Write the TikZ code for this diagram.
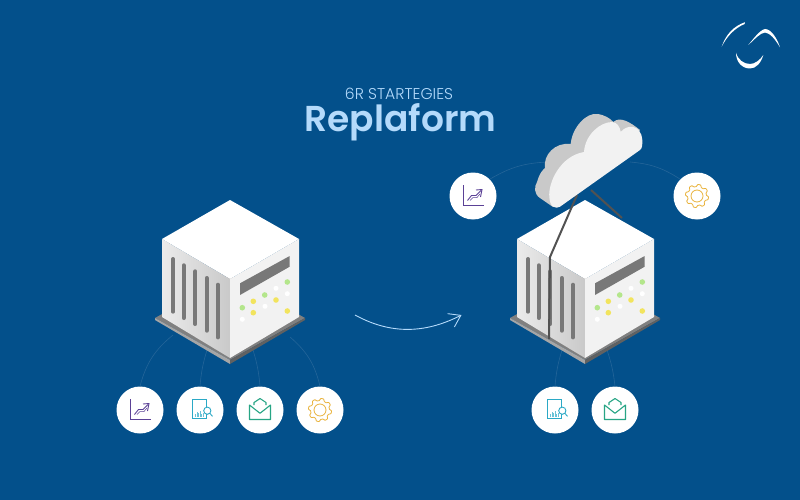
\documentclass[tikz,border=0pt]{standalone}
\usepackage{fontspec}
\setmainfont{Poppins}
\newfontfamily\lightfont{Poppins Light}
\newfontfamily\headfont{Poppins SemiBold}
\usetikzlibrary{arrows.meta}
\definecolor{bluebg}{HTML}{03508B}
\definecolor{arcblue}{HTML}{246599}
\definecolor{titleblue}{HTML}{B4DAFB}
\definecolor{chartcol}{HTML}{5B4196}
\definecolor{reportcol}{HTML}{2BA9C6}
\definecolor{mailcol}{HTML}{27A585}
\definecolor{gearcol}{HTML}{E9B33C}
\definecolor{dotgreen}{HTML}{B4E68C}
\definecolor{dotyellow}{HTML}{F2E45E}
\tikzset{
  badge/.style={circle,fill=white,minimum size=47pt,inner sep=0pt},
  arcline/.style={draw=arcblue,line width=0.6pt},
  wire/.style={draw=black!68,line width=2pt},
  servercube/.pic={
    % plate
    \fill[black!50] (-75,118) -- (0,76) -- (75,118) -- (0,160) -- cycle;
    \fill[black!35] (-75,118) -- (0,160) -- (0,164) -- (-75,120) -- cycle;
    \fill[black!62] (75,118) -- (0,160) -- (0,164) -- (75,120) -- cycle;
    % faces
    \fill[white] (0,0) -- (69,39) -- (0,79) -- (-68,39) -- cycle;
    \shade[left color=black!8,right color=black!21] (-68,39) -- (0,79) -- (0,158) -- (-68,117) -- cycle;
    \fill[black!5] (0,79) -- (69,39) -- (69,117) -- (0,158) -- cycle;
    % slits
    \foreach \sx/\sy in {-57/59,-46.3/65.3,-34.7/71.3,-23.3/78,-12/84.7}
      \draw[black!53,line width=4pt,line cap=round] (\sx,\sy) -- ++(0,52.7);
    % display
    \fill[black!53] (10,83.3) -- (59.7,56) -- (59.7,66.7) -- (10,95) -- cycle;
    % leds
    \foreach \lx/\ly in {57.3/82,34.7/95,12.3/107.7}
      \fill[dotgreen] (\lx,\ly) circle (2.8);
    \foreach \lx/\ly in {23.3/101.3,46/100,23.3/112.7,57.3/111}
      \fill[dotyellow] (\lx,\ly) circle (2.8);
    \foreach \lx/\ly in {46/88.3,57.3/93.7,35/106.3,12.3/119.3}
      \fill[white] (\lx,\ly) circle (2.5);
  },
  charticon/.pic={
    \draw[chartcol,line width=1pt] (-9.7,-10.7) -- (-9.7,9) -- (10.7,9);
    \draw[chartcol,line width=0.9pt] (-5.5,4.5) -- (-1.5,-0.5) -- (3,-0.5) -- (8,-5.5);
    \draw[chartcol,line width=0.9pt] (3,-6) -- (9,-6.5) -- (7.5,1);
    \draw[chartcol,line width=0.5pt] (-3,4.5) -- (0,1.5) -- (4,1.5) -- (7,-2);
  },
  reporticon/.pic={
    \draw[reportcol,line width=0.9pt] (-7.7,-10.7) rectangle (6.7,8.3);
    \foreach \bx/\bh in {-4.5/3,-3/5,-1.5/4,0/6,1.5/3,3/4}
      \draw[reportcol!70,line width=0.9pt] (\bx,6.5) -- ++(0,-\bh);
    \draw[reportcol,line width=0.9pt,fill=white] (7.3,0.7) circle (3.6);
    \draw[reportcol,line width=0.9pt] (9.9,3.3) -- (12.5,6.4);
  },
  mailicon/.pic={
    \draw[mailcol,line width=1.1pt,line join=round] (-6,-5) -- (-6,-7.5) -- (0,-11.5) -- (6,-7.5) -- (6,-5);
    \draw[mailcol,line width=1.1pt,line join=round] (-10.5,-5) -- (-10.5,9.5) -- (10.5,9.5) -- (10.5,-5) -- (0,3.3) -- cycle;
  },
  gearicon/.pic={
    \draw[gearcol,line width=0.8pt,line join=round] plot[smooth,samples=97,domain=0:360]
      (\x:{10.5+1.1*max(-1,min(1,1.6*sin(8*\x)))}) -- cycle;
    \draw[gearcol,line width=0.8pt] (0,0) circle (6);
  }
}

\begin{document}
\begin{tikzpicture}[x=1pt,y=-1pt]

% Background
\fill[bluebg] (0,0) rectangle (800,500);
\useasboundingbox (0,0) rectangle (800,500);

% Title
\node[text=titleblue,font=\lightfont\fontsize{15.6}{17}\selectfont] (subtitle) at (399,94) {6R STARTEGIES};
\node[text=titleblue,font=\headfont\fontsize{36}{40}\selectfont] (title) at (400.5,122) {Replaform};

% Logo
\fill[white] (721.7,46.7) .. controls (726,34) and (734,26) .. (745,22.2) -- (744.6,24) .. controls (735,28) and (727,36) .. (721.7,46.7) -- cycle;
\fill[white] (748.3,45) .. controls (754,38) and (760,30) .. (765,29) .. controls (771,29) and (777,38) .. (780,47.3) .. controls (775,39) and (770,33) .. (765,32.5) .. controls (760,33) and (755,39) .. (748.3,45) -- cycle;
\fill[white] (736,52.7) .. controls (738,60) and (744,64) .. (750,64) .. controls (755,64) and (760,60) .. (763.3,55) .. controls (761,63) and (756,68.5) .. (750,68.5) .. controls (742,68.5) and (736,62) .. (736,52.7) -- cycle;

% Badges
\node[badge] (chartA) at (140,410) {};
\node[badge] (reportA) at (200,410) {};
\node[badge] (mailA) at (260,410) {};
\node[badge] (gearA) at (320,410) {};
\node[badge] (reportB) at (555,410) {};
\node[badge] (mailB) at (615,410) {};
\node[badge] (chartB) at (473,196) {};
\node[badge] (gearB) at (697,196) {};

\pic at (chartA) {charticon};
\pic at (reportA) {reporticon};
\pic at (mailA) {mailicon};
\pic at (gearA) {gearicon};
\pic at (reportB) {reporticon};
\pic at (mailB) {mailicon};
\pic at (chartB) {charticon};
\pic at (gearB) {gearicon};

% Free ends of the arcs
\coordinate (hubA) at (173,335);
\coordinate (hubB) at (207,350);
\coordinate (hubC) at (253,350);
\coordinate (hubD) at (290,337);
\coordinate (hubE) at (562,350);
\coordinate (hubF) at (607,350);
\coordinate (hubG) at (548,162);
\coordinate (hubH) at (630,162);

\draw[arcline] (chartA.north) to[bend left=18] (hubA);
\draw[arcline] (reportA.north) to[bend left=6] (hubB);
\draw[arcline] (mailA.north) to[bend right=6] (hubC);
\draw[arcline] (gearA.north) to[bend right=18] (hubD);
\draw[arcline] (reportB.north) to[bend left=6] (hubE);
\draw[arcline] (mailB.north) to[bend right=6] (hubF);
\draw[arcline] (chartB.45) to[bend left=14] (hubG);
\draw[arcline] (gearB.135) to[bend right=14] (hubH);

% Servers
\coordinate (wireA) at (591,190);
\coordinate (wireB) at (622,218);
\draw[wire] (wireA) -- (wireB);

\pic at (230,200) {servercube};
\pic at (585,200) {servercube};

\coordinate (wireC) at (577,195);
\coordinate (wireD) at (550,257);
\coordinate (wireE) at (549,339);
\draw[wire,line join=round] (wireC) -- (wireD) -- (wireE);

% Cloud
\fill[black!21] (553,207) -- (540,198) .. controls (534,194) and (534,187) .. (537,182) .. controls (540,172) and (543,170) .. (545,168) .. controls (543,155) and (555,142) .. (570.7,144) .. controls (572,128) and (586,112) .. (598,114) .. controls (604,115) and (610,118) .. (613.3,122) .. controls (620,116) and (630,122) .. (640,130) -- (600,170) -- cycle;
\fill[black!5] (560,206.7) .. controls (556,209) and (550,208) .. (549.3,197) .. controls (548,183) and (560,156) .. (584,152) .. controls (585,135) and (600,122) .. (612,122) .. controls (617,122) and (620,127) .. (620.7,132) .. controls (627,124) and (641,124) .. (642.3,140) .. controls (642.5,145) and (642,149) .. (640,150) -- cycle;

% Arrow
\coordinate (moveA) at (355,315);
\coordinate (moveB) at (461.5,315);
\draw[titleblue,line width=0.9pt,-{Straight Barb[length=11pt,width=15pt,line width=0.9pt]}] (moveA) .. controls (395,337) and (430,331) .. (moveB);

\end{tikzpicture}
\end{document}
